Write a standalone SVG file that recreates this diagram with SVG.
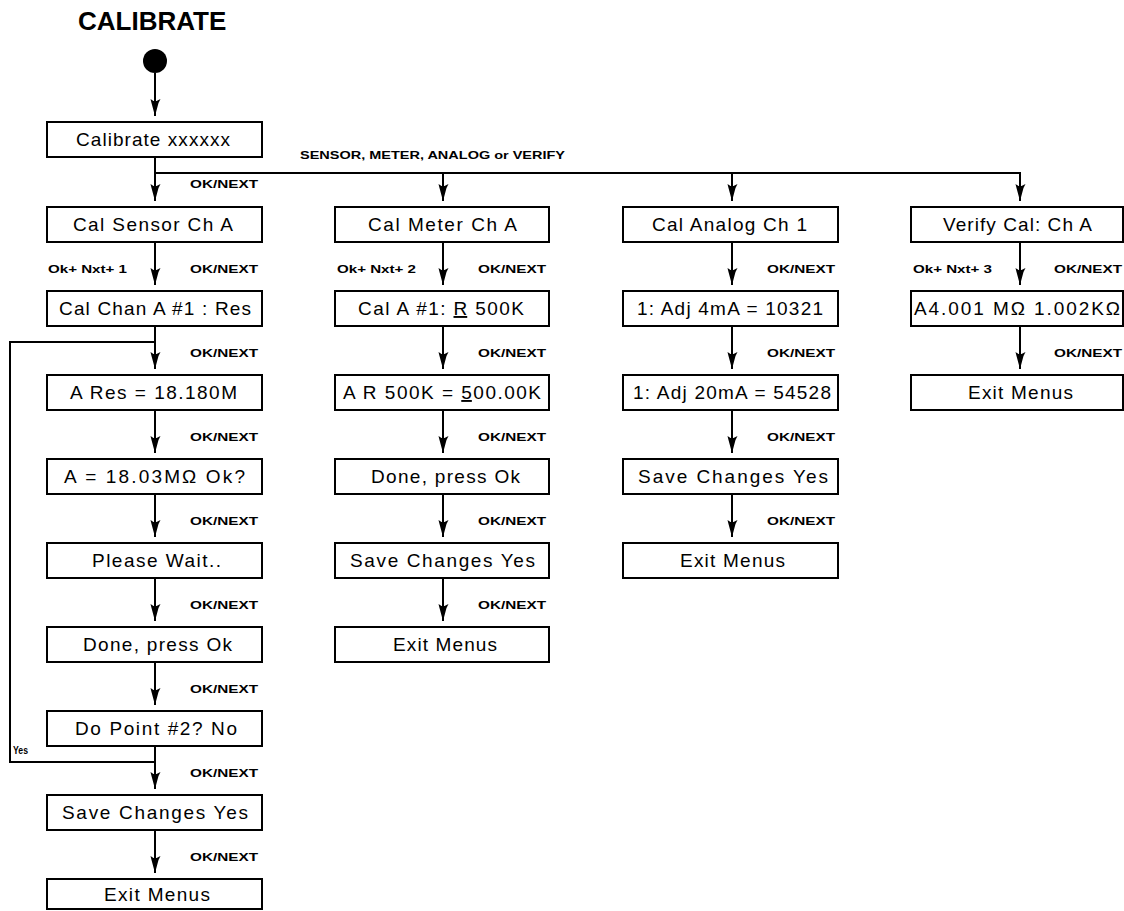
<svg xmlns="http://www.w3.org/2000/svg" width="1124" height="911" viewBox="0 0 1124 911">
<style>
.box{fill:#fff;stroke:#000;stroke-width:2}
.t{font-family:"Liberation Sans",Arial,sans-serif;font-size:19px;fill:#000}
.lbl{font-family:"Liberation Sans",Arial,sans-serif;font-size:10px;font-weight:bold;fill:#000}
.title{font-family:"Liberation Sans",Arial,sans-serif;font-size:26px;font-weight:bold;fill:#000}
.conn{stroke:#000;stroke-width:2;fill:none}
.arr{marker-end:url(#ah)}
.u{text-decoration:underline}
</style>
<defs>
<marker id="ah" viewBox="-18 -6 20 12" refX="0" refY="0" markerWidth="20" markerHeight="12" markerUnits="userSpaceOnUse" orient="auto">
<path d="M0,0 L-13,-3.5 L-17,-5.5 L-15,-1.5 L-15,1.5 L-17,4.5 L-13,3.5 Z" fill="#000"/>
</marker>
</defs>
<rect width="1124" height="911" fill="#fff"/>
<text class="title" x="78" y="30">CALIBRATE</text>
<g id="start"><circle cx="155" cy="61" r="12" fill="#000"/></g>

<g id="connectors">
<line class="conn arr" x1="155" y1="73" x2="155" y2="116"/>
<line class="conn arr" x1="155" y1="157" x2="155" y2="201"/>
<line class="conn" x1="155" y1="173" x2="1021" y2="173"/>
<line class="conn arr" x1="443" y1="173" x2="443" y2="201"/>
<line class="conn arr" x1="732" y1="173" x2="732" y2="201"/>
<line class="conn arr" x1="1020" y1="173" x2="1020" y2="201"/>
<line class="conn arr" x1="155" y1="242" x2="155" y2="285"/>
<line class="conn arr" x1="155" y1="326" x2="155" y2="369"/>
<line class="conn arr" x1="155" y1="410" x2="155" y2="453"/>
<line class="conn arr" x1="155" y1="494" x2="155" y2="537"/>
<line class="conn arr" x1="155" y1="578" x2="155" y2="621"/>
<line class="conn arr" x1="155" y1="662" x2="155" y2="705"/>
<line class="conn arr" x1="155" y1="746" x2="155" y2="789"/>
<line class="conn arr" x1="155" y1="830" x2="155" y2="873"/>
<polyline class="conn" points="155,762 10,762 10,342 155,342"/>
<line class="conn arr" x1="443" y1="242" x2="443" y2="285"/>
<line class="conn arr" x1="443" y1="326" x2="443" y2="369"/>
<line class="conn arr" x1="443" y1="410" x2="443" y2="453"/>
<line class="conn arr" x1="443" y1="494" x2="443" y2="537"/>
<line class="conn arr" x1="443" y1="578" x2="443" y2="621"/>
<line class="conn arr" x1="732" y1="242" x2="732" y2="285"/>
<line class="conn arr" x1="732" y1="326" x2="732" y2="369"/>
<line class="conn arr" x1="732" y1="410" x2="732" y2="453"/>
<line class="conn arr" x1="732" y1="494" x2="732" y2="537"/>
<line class="conn arr" x1="1020" y1="242" x2="1020" y2="285"/>
<line class="conn arr" x1="1020" y1="326" x2="1020" y2="369"/>
</g>

<g id="labels">
<text class="lbl" x="300" y="159" font-size="9" textLength="265" lengthAdjust="spacingAndGlyphs">SENSOR, METER, ANALOG or VERIFY</text>
<text class="lbl" x="190" y="188" textLength="68" lengthAdjust="spacingAndGlyphs">OK/NEXT</text>
<text class="lbl" x="48" y="273" textLength="79" lengthAdjust="spacingAndGlyphs">Ok+ Nxt+ 1</text>
<text class="lbl" x="190" y="273" textLength="68" lengthAdjust="spacingAndGlyphs">OK/NEXT</text>
<text class="lbl" x="190" y="357" textLength="68" lengthAdjust="spacingAndGlyphs">OK/NEXT</text>
<text class="lbl" x="190" y="441" textLength="68" lengthAdjust="spacingAndGlyphs">OK/NEXT</text>
<text class="lbl" x="190" y="525" textLength="68" lengthAdjust="spacingAndGlyphs">OK/NEXT</text>
<text class="lbl" x="190" y="609" textLength="68" lengthAdjust="spacingAndGlyphs">OK/NEXT</text>
<text class="lbl" x="190" y="693" textLength="68" lengthAdjust="spacingAndGlyphs">OK/NEXT</text>
<text class="lbl" x="190" y="777" textLength="68" lengthAdjust="spacingAndGlyphs">OK/NEXT</text>
<text class="lbl" x="190" y="861" textLength="68" lengthAdjust="spacingAndGlyphs">OK/NEXT</text>
<text class="lbl" x="13" y="754" font-size="8" textLength="15" lengthAdjust="spacingAndGlyphs">Yes</text>
<text class="lbl" x="337" y="273" textLength="79" lengthAdjust="spacingAndGlyphs">Ok+ Nxt+ 2</text>
<text class="lbl" x="478" y="273" textLength="68" lengthAdjust="spacingAndGlyphs">OK/NEXT</text>
<text class="lbl" x="478" y="357" textLength="68" lengthAdjust="spacingAndGlyphs">OK/NEXT</text>
<text class="lbl" x="478" y="441" textLength="68" lengthAdjust="spacingAndGlyphs">OK/NEXT</text>
<text class="lbl" x="478" y="525" textLength="68" lengthAdjust="spacingAndGlyphs">OK/NEXT</text>
<text class="lbl" x="478" y="609" textLength="68" lengthAdjust="spacingAndGlyphs">OK/NEXT</text>
<text class="lbl" x="767" y="273" textLength="68" lengthAdjust="spacingAndGlyphs">OK/NEXT</text>
<text class="lbl" x="767" y="357" textLength="68" lengthAdjust="spacingAndGlyphs">OK/NEXT</text>
<text class="lbl" x="767" y="441" textLength="68" lengthAdjust="spacingAndGlyphs">OK/NEXT</text>
<text class="lbl" x="767" y="525" textLength="68" lengthAdjust="spacingAndGlyphs">OK/NEXT</text>
<text class="lbl" x="913" y="273" textLength="79" lengthAdjust="spacingAndGlyphs">Ok+ Nxt+ 3</text>
<text class="lbl" x="1054" y="273" textLength="68" lengthAdjust="spacingAndGlyphs">OK/NEXT</text>
<text class="lbl" x="1054" y="357" textLength="68" lengthAdjust="spacingAndGlyphs">OK/NEXT</text>
</g>

<g id="n-calibrate"><rect class="box" x="47" y="122" width="215" height="35"/><text class="t" x="76" y="146" textLength="154">Calibrate xxxxxx</text></g>

<g id="c1r0"><rect class="box" x="47" y="207" width="215" height="35"/><text class="t" x="73" y="231" textLength="160">Cal Sensor Ch A</text></g>
<g id="c1r1"><rect class="box" x="47" y="291" width="215" height="35"/><text class="t" x="59" y="315" textLength="192">Cal Chan A #1 : Res</text></g>
<g id="c1r2"><rect class="box" x="47" y="375" width="215" height="35"/><text class="t" x="70" y="399" textLength="167">A Res = 18.180M</text></g>
<g id="c1r3"><rect class="box" x="47" y="459" width="215" height="35"/><text class="t" x="64" y="483" textLength="181">A = 18.03MΩ Ok?</text></g>
<g id="c1r4"><rect class="box" x="47" y="543" width="215" height="35"/><text class="t" x="92" y="567" textLength="129">Please Wait..</text></g>
<g id="c1r5"><rect class="box" x="47" y="627" width="215" height="35"/><text class="t" x="83" y="651" textLength="149">Done, press Ok</text></g>
<g id="c1r6"><rect class="box" x="47" y="711" width="215" height="35"/><text class="t" x="75" y="735" textLength="162">Do Point #2? No</text></g>
<g id="c1r7"><rect class="box" x="47" y="795" width="215" height="35"/><text class="t" x="62" y="819" textLength="186">Save Changes Yes</text></g>
<g id="c1r8"><rect class="box" x="47" y="879" width="215" height="30"/><text class="t" x="104" y="901" textLength="106">Exit Menus</text></g>

<g id="c2r0"><rect class="box" x="335" y="207" width="214" height="35"/><text class="t" x="368" y="231" textLength="149">Cal Meter Ch A</text></g>
<g id="c2r1"><rect class="box" x="335" y="291" width="214" height="35"/><text class="t" x="358" y="315" textLength="166">Cal A #1: <tspan class="u">R</tspan> 500K</text></g>
<g id="c2r2"><rect class="box" x="335" y="375" width="214" height="35"/><text class="t" x="343" y="399" textLength="198">A R 500K = <tspan class="u">5</tspan>00.00K</text></g>
<g id="c2r3"><rect class="box" x="335" y="459" width="214" height="35"/><text class="t" x="371" y="483" textLength="149">Done, press Ok</text></g>
<g id="c2r4"><rect class="box" x="335" y="543" width="214" height="35"/><text class="t" x="350" y="567" textLength="185">Save Changes Yes</text></g>
<g id="c2r5"><rect class="box" x="335" y="627" width="214" height="35"/><text class="t" x="393" y="651" textLength="104">Exit Menus</text></g>

<g id="c3r0"><rect class="box" x="623" y="207" width="215" height="35"/><text class="t" x="652" y="231" textLength="155">Cal Analog Ch 1</text></g>
<g id="c3r1"><rect class="box" x="623" y="291" width="215" height="35"/><text class="t" x="637" y="315" textLength="186">1: Adj 4mA = 10321</text></g>
<g id="c3r2"><rect class="box" x="623" y="375" width="215" height="35"/><text class="t" x="633" y="399" textLength="198">1: Adj 20mA = 54528</text></g>
<g id="c3r3"><rect class="box" x="623" y="459" width="215" height="35"/><text class="t" x="638" y="483" textLength="190">Save Changes Yes</text></g>
<g id="c3r4"><rect class="box" x="623" y="543" width="215" height="35"/><text class="t" x="680" y="567" textLength="105">Exit Menus</text></g>

<g id="c4r0"><rect class="box" x="911" y="207" width="212" height="35"/><text class="t" x="943" y="231" textLength="149">Verify Cal: Ch A</text></g>
<g id="c4r1"><rect class="box" x="911" y="291" width="212" height="35"/><text class="t" x="914" y="315" textLength="206">A4.001 MΩ 1.002KΩ</text></g>
<g id="c4r2"><rect class="box" x="911" y="375" width="212" height="35"/><text class="t" x="968" y="399" textLength="105">Exit Menus</text></g>
</svg>
